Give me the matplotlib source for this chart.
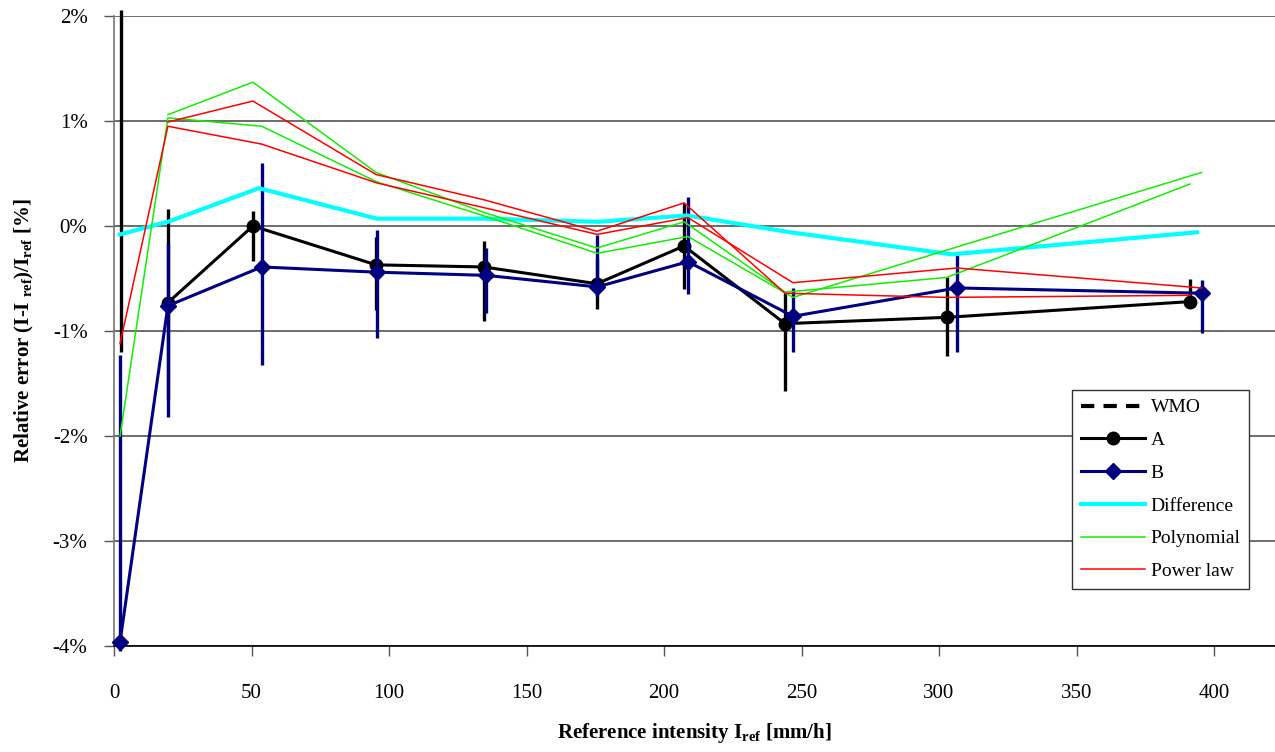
import matplotlib
matplotlib.use("Agg")
import matplotlib.pyplot as plt
import numpy as np

plt.rcParams['font.family'] = ['Liberation Serif', 'DejaVu Serif']

# ---- data ----
a_x = [19.6, 50.5, 95.3, 134.5, 175.6, 207.3, 244.0, 302.8, 391.3]
a_y = [-0.73, 0.00, -0.37, -0.39, -0.55, -0.19, -0.93, -0.87, -0.72]
a_err_x = [2.4, 19.6, 50.5, 95.3, 134.5, 175.6, 207.3, 244.0, 302.8, 391.3]
a_err_lo = [-1.20, -1.65, -0.33, -0.80, -0.90, -0.79, -0.60, -1.57, -1.24, -0.77]
a_err_hi = [2.06, 0.16, 0.14, -0.10, -0.14, -0.30, 0.22, -0.64, -0.49, -0.50]

b_x = [2.2, 19.6, 53.7, 95.6, 135.3, 175.7, 208.7, 246.9, 306.5, 395.5]
b_y = [-3.96, -0.76, -0.39, -0.44, -0.47, -0.58, -0.34, -0.86, -0.59, -0.64]
b_err_lo = [-4.05, -1.82, -1.32, -1.07, -0.83, -0.67, -0.65, -1.20, -1.20, -1.02]
b_err_hi = [-1.23, -0.16, 0.60, -0.04, -0.21, -0.09, 0.28, -0.59, -0.28, -0.51]

diff_x = [2.2, 19.6, 52.7, 95.6, 135.0, 176.0, 208.4, 246.0, 304.6, 393.8]
diff_y = [-0.08, 0.04, 0.36, 0.07, 0.07, 0.04, 0.10, -0.06, -0.27, -0.06]

polyA_y = [1.06, 1.37, 0.51, 0.13, -0.21, 0.04, -0.63, -0.49, 0.40]
polyB_y = [-2.00, 1.03, 0.95, 0.42, 0.09, -0.26, -0.10, -0.68, -0.20, 0.51]
powA_y = [0.99, 1.19, 0.49, 0.25, -0.05, 0.22, -0.64, -0.68, -0.66]
powB_y = [-1.12, 0.95, 0.78, 0.41, 0.17, -0.08, 0.08, -0.54, -0.40, -0.59]

wmo_x = []
wmo_y = []

y_ticks = [2, 1, 0, -1, -2, -3, -4]
y_tick_labels = ['2%', '1%', '0%', '-1%', '-2%', '-3%', '-4%']
x_ticks = [0, 50, 100, 150, 200, 250, 300, 350, 400]

# ---- figure ----
fig = plt.figure(figsize=(12.75, 7.52), dpi=100)
ax = fig.add_axes([114/1275, (752-646)/752, (1275-114)/1275, 630/752])

for yv in y_ticks:
    ax.axhline(yv, color='#444444', lw=1.1, zorder=0)

navy = '#000080'
ax.plot(wmo_x, wmo_y, color='black', lw=3.0, ls=(0, (3.2, 2.2)), label='WMO')

ax.vlines(a_err_x, a_err_lo, a_err_hi, color='black', lw=2.4, zorder=2, clip_on=False)
ax.plot(a_x, a_y, color='black', lw=2.2, marker='o', ms=9, zorder=3, label='A')

ax.vlines(b_x, b_err_lo, b_err_hi, color=navy, lw=2.4, zorder=4, clip_on=False)
ax.plot(b_x, b_y, color=navy, lw=2.2, marker='D', ms=8, zorder=5, label='B', clip_on=False)

ax.plot(diff_x, diff_y, color='#00FFFF', lw=3.0, zorder=6, label='Difference')

ax.plot(a_x, polyA_y, color='#11EE00', lw=1.1, zorder=7, label='Polynomial')
ax.plot(b_x, polyB_y, color='#11EE00', lw=1.1, zorder=7)
ax.plot(a_x, powA_y, color='#FF0000', lw=1.1, zorder=8, label='Power law')
ax.plot(b_x, powB_y, color='#FF0000', lw=1.1, zorder=8)

ax.set_xlim(0, (1275-114)/2.75)
ax.set_ylim(-4, 2)
ax.set_yticks(y_ticks)
ax.set_yticklabels(y_tick_labels, fontsize=15)
ax.set_xticks(x_ticks)
ax.set_xticklabels([str(v) for v in x_ticks], fontsize=15)

for s in ['top', 'right']:
    ax.spines[s].set_visible(False)
ax.spines['left'].set_color('#777777')
ax.spines['left'].set_linewidth(1.2)
ax.spines['bottom'].set_color('black')
ax.spines['bottom'].set_linewidth(1.2)
ax.tick_params(axis='y', direction='out', length=7, width=1, color='#555555', pad=12)
ax.tick_params(axis='x', direction='out', length=7, width=1, color='#555555', pad=20)

ax.set_ylabel('Relative error (I-I$_{\\ \\mathregular{ref}}$)/I$_{\\mathregular{ref}}$ [%]',
              fontsize=15, fontweight='bold', labelpad=12)
ax.set_xlabel('Reference intensity I$_{\\mathregular{ref}}$ [mm/h]',
              fontsize=15, fontweight='bold', labelpad=13)

leg = ax.legend(loc='upper left', bbox_to_anchor=((1072-114)/1161, (646-390)/630),
                borderaxespad=0,
                fontsize=14, frameon=True, fancybox=False, edgecolor='#333333',
                framealpha=1, handlelength=3.3, borderpad=0.45, labelspacing=0.78,
                handletextpad=0.3)
leg.get_frame().set_linewidth(1.0)

fig.savefig('out.png', dpi=100)
